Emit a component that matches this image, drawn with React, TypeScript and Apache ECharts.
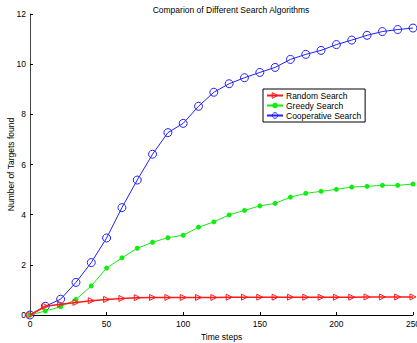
import React, { useEffect, useRef } from "react";
import * as echarts from "echarts";

const timeSteps = [0, 10, 20, 30, 40, 50, 60, 70, 80, 90, 100, 110, 120, 130, 140, 150, 160, 170, 180, 190, 200, 210, 220, 230, 240, 250];
const randomSearch = [0, 0.35, 0.43, 0.5, 0.57, 0.62, 0.66, 0.69, 0.7, 0.7, 0.7, 0.7, 0.7, 0.71, 0.71, 0.71, 0.71, 0.71, 0.71, 0.71, 0.71, 0.71, 0.72, 0.72, 0.72, 0.72];
const greedySearch = [0, 0.16, 0.33, 0.62, 1.16, 1.87, 2.28, 2.66, 2.9, 3.08, 3.18, 3.5, 3.71, 3.99, 4.17, 4.35, 4.45, 4.7, 4.85, 4.93, 5.01, 5.1, 5.13, 5.17, 5.17, 5.22];
const cooperativeSearch = [0, 0.35, 0.63, 1.3, 2.09, 3.07, 4.28, 5.38, 6.41, 7.27, 7.64, 8.32, 8.88, 9.22, 9.46, 9.67, 9.87, 10.19, 10.39, 10.55, 10.78, 10.96, 11.15, 11.3, 11.38, 11.44];
const seriesNames = ["Random Search", "Greedy Search", "Cooperative Search"];
const titleText = "Comparion of Different Search Algorithms";
const xLabel = "Time steps";
const yLabel = "Number of Targets found";

const pairs = (ys: number[]) => timeSteps.map((t, i) => [t, ys[i]]);

const RED = "#ff1a1a";
const GREEN = "#10ee10";
const BLUE = "#2020ff";
const CLEAR = "rgba(0,0,0,0)";

export default function App() {
  const ref = useRef<HTMLDivElement>(null);
  useEffect(() => {
    if (!ref.current) return;
    const chart = echarts.init(ref.current, undefined, { renderer: "svg" });
    const font = "Liberation Sans, Arial, Helvetica, sans-serif";
    chart.setOption({
      animation: false,
      backgroundColor: "#ffffff",
      textStyle: { fontFamily: font },
      title: {
        text: titleText,
        left: 226,
        textAlign: "center",
        top: 0,
        textStyle: { fontSize: 8.5, fontWeight: "normal", color: "#000", fontFamily: font },
      },
      grid: { left: 30, right: 4, top: 14, bottom: 28, containLabel: false, outerBoundsMode: "none" },
      legend: {
        orient: "vertical",
        left: 263,
        top: 89,
        padding: [2, 4, 2, 3],
        itemGap: 1,
        itemWidth: 16,
        itemHeight: 7,
        borderColor: "#000",
        borderWidth: 1,
        backgroundColor: "#fff",
        borderRadius: 0,
        textStyle: { fontSize: 8.5, color: "#000", fontFamily: font, padding: [0, 0, 0, -2] },
        data: [
          { name: seriesNames[0], itemStyle: { color: CLEAR, borderColor: RED, borderWidth: 1 } },
          { name: seriesNames[1], itemStyle: { color: GREEN, borderWidth: 0 } },
          { name: seriesNames[2], itemStyle: { color: CLEAR, borderColor: BLUE, borderWidth: 1 } },
        ],
      },
      xAxis: {
        type: "value",
        min: 0,
        max: 250,
        interval: 50,
        name: xLabel,
        nameLocation: "middle",
        nameGap: 17,
        nameMoveOverlap: false,
        nameTextStyle: { fontSize: 8.5, color: "#000", fontFamily: font },
        axisLine: { show: true, onZero: false, lineStyle: { color: "#000", width: 1 } },
        axisTick: { show: true, inside: true, length: 3, lineStyle: { color: "#000" } },
        axisLabel: { fontSize: 8.5, color: "#000", margin: 4, fontFamily: font },
        splitLine: { show: false },
      },
      yAxis: {
        type: "value",
        min: 0,
        max: 12,
        interval: 2,
        name: yLabel,
        nameLocation: "middle",
        nameGap: 15,
        nameMoveOverlap: false,
        nameTextStyle: { fontSize: 8.5, color: "#000", fontFamily: font },
        axisLine: { show: true, onZero: false, lineStyle: { color: "#444", width: 1 } },
        axisTick: { show: true, inside: true, length: 3, lineStyle: { color: "#000" } },
        axisLabel: { fontSize: 8.5, color: "#000", margin: 4, fontFamily: font },
        splitLine: { show: false },
      },
      series: [
        {
          name: seriesNames[0],
          type: "line",
          data: pairs(randomSearch),
          symbol: "triangle",
          symbolRotate: -90,
          symbolSize: 6,
          showAllSymbol: true,
          lineStyle: { color: RED, width: 1.6 },
          itemStyle: { color: CLEAR, borderColor: RED, borderWidth: 1 },
          z: 3,
        },
        {
          name: seriesNames[1],
          type: "line",
          data: pairs(greedySearch),
          symbol: "circle",
          symbolSize: 5,
          showAllSymbol: true,
          lineStyle: { color: GREEN, width: 1 },
          itemStyle: { color: GREEN, borderWidth: 0 },
          z: 2,
        },
        {
          name: seriesNames[2],
          type: "line",
          data: pairs(cooperativeSearch),
          symbol: "circle",
          symbolSize: 8,
          showAllSymbol: true,
          lineStyle: { color: BLUE, width: 1 },
          itemStyle: { color: CLEAR, borderColor: BLUE, borderWidth: 1 },
          z: 1,
        },
      ],
    });
    return () => chart.dispose();
  }, []);
  return (
    <div
      ref={ref}
      style={{ position: "fixed", left: 0, top: 0, width: 417, height: 343, background: "#fff" }}
    />
  );
}
